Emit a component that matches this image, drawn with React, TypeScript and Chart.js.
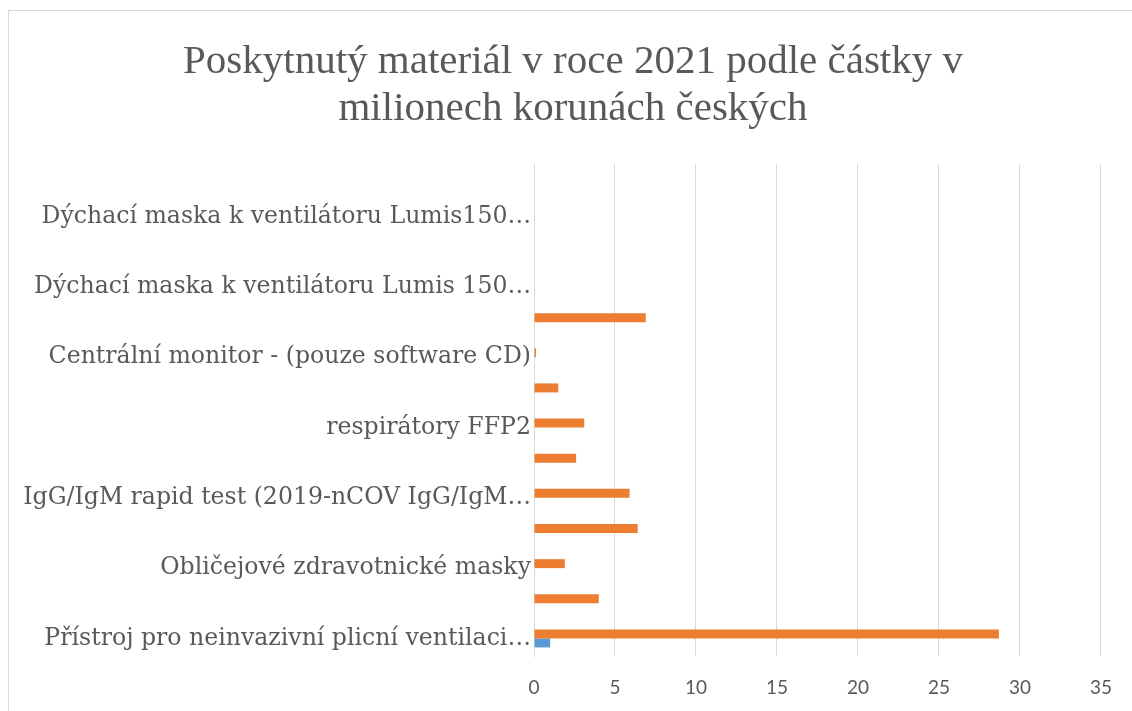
import React, { useEffect, useRef } from 'react';
import { Chart, registerables } from 'chart.js';

Chart.register(...registerables);

const TITLE_LINES = ['Poskytnutý materiál v roce 2021 podle částky v', 'milionech korunách českých'];

// categories listed bottom-to-top (as in the Excel chart); unlabeled rows are hidden in the original
const CATEGORIES = [
  'Přístroj pro neinvazivní plicní ventilaci…',
  '',
  'Obličejové zdravotnické masky',
  '',
  'IgG/IgM rapid test (2019-nCOV IgG/IgM…',
  '',
  'respirátory FFP2',
  '',
  'Centrální monitor - (pouze software CD)',
  '',
  'Dýchací maska k ventilátoru Lumis 150…',
  '',
  'Dýchací maska k ventilátoru Lumis150…',
  '',
];

const ORANGE_VALUES = [28.7, 4.0, 1.9, 6.4, 5.9, 2.6, 3.1, 1.5, 0.12, 6.9, null, null, null, null];
const BLUE_VALUES = [1.0, null, null, null, null, null, null, null, null, null, null, null, null, null];

const X_MIN = 0;
const X_MAX = 35;
const X_STEP = 5;

const TEXT_COLOR = '#595959';
const GRID_COLOR = '#d9d9d9';

const framePlugin = {
  id: 'frameAndTitle',
  beforeDraw(chart: any) {
    const ctx = chart.ctx;
    ctx.save();
    ctx.strokeStyle = GRID_COLOR;
    ctx.lineWidth = 1;
    ctx.beginPath();
    ctx.moveTo(8.5, 10);
    ctx.lineTo(8.5, chart.height);
    ctx.moveTo(8, 10.5);
    ctx.lineTo(chart.width, 10.5);
    ctx.stroke();
    ctx.restore();
  },
  afterDraw(chart: any) {
    const ctx = chart.ctx;
    ctx.save();
    ctx.fillStyle = TEXT_COLOR;
    ctx.font = 'normal 41px "Liberation Serif", serif';
    ctx.textAlign = 'center';
    ctx.textBaseline = 'middle';
    const cx = 573;
    TITLE_LINES.forEach((line, i) => {
      ctx.fillText(line, cx, 62.5 + i * 47);
    });
    ctx.restore();
  },
};

export default function App() {
  const canvasRef = useRef<HTMLCanvasElement | null>(null);

  useEffect(() => {
    const canvas = canvasRef.current;
    if (!canvas) return;
    const chart = new Chart(canvas, {
      type: 'bar',
      data: {
        labels: CATEGORIES,
        datasets: [
          {
            label: 'Series 2',
            data: ORANGE_VALUES as any,
            backgroundColor: '#ED7D31',
            borderWidth: 0,
          },
          {
            label: 'Series 1',
            data: BLUE_VALUES as any,
            backgroundColor: '#5B9BD5',
            borderWidth: 0,
          },
        ],
      },
      options: {
        indexAxis: 'y',
        responsive: false,
        animation: false,
        devicePixelRatio: 1,
        datasets: {
          bar: {
            barPercentage: 1,
            categoryPercentage: 0.512,
          },
        },
        layout: {
          padding: { left: 9, right: 31, top: 164, bottom: 0 },
        },
        plugins: {
          legend: { display: false },
          tooltip: { enabled: false },
          title: { display: false },
        },
        scales: {
          x: {
            type: 'linear',
            min: X_MIN,
            max: X_MAX,
            ticks: {
              stepSize: X_STEP,
              color: TEXT_COLOR,
              font: { family: 'Lato, sans-serif', size: 19 },
              padding: 20,
            },
            grid: { color: GRID_COLOR, lineWidth: 1, drawTicks: false },
            border: { display: false },
            afterFit(scale: any) {
              scale.height = 55;
            },
          },
          y: {
            type: 'category',
            reverse: true,
            ticks: {
              autoSkip: false,
              color: TEXT_COLOR,
              font: { family: '"DejaVu Serif", serif', size: 23.6 },
              padding: 3,
            },
            grid: { display: false, drawTicks: false },
            border: { display: true, color: GRID_COLOR, width: 1 },
            afterFit(scale: any) {
              scale.width = 534 - 9;
            },
          },
        },
      },
      plugins: [framePlugin],
    });
    return () => chart.destroy();
  }, []);

  return (
    <div style={{ position: 'fixed', left: 0, top: 0, width: 1132, height: 711, background: '#fff' }}>
      <canvas ref={canvasRef} width={1132} height={711} style={{ display: 'block' }} />
    </div>
  );
}
